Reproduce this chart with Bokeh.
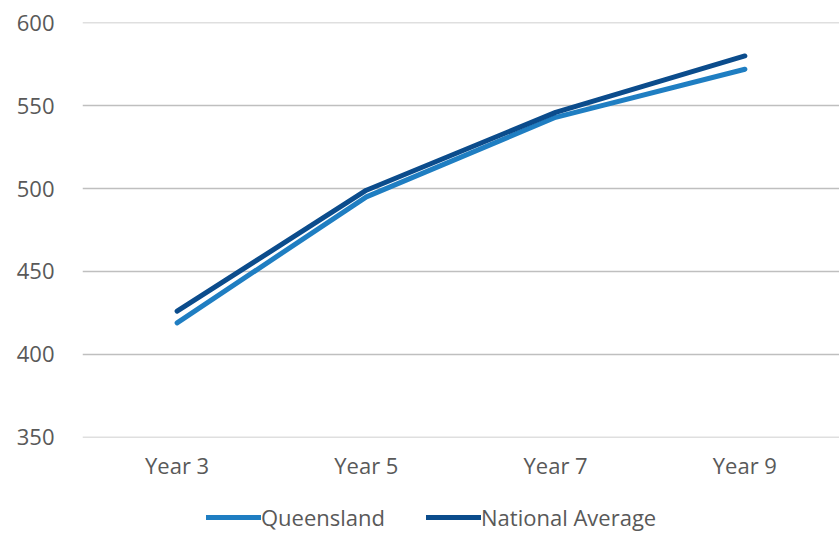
from bokeh.plotting import figure
from bokeh.layouts import column
from bokeh.models import Legend, LegendItem, Range1d, FactorRange, FixedTicker
from bokeh.embed import file_html
from bokeh.resources import INLINE

years = ["Year 3", "Year 5", "Year 7", "Year 9"]
queensland = [419, 495, 543, 572]
national = [426, 499, 546, 580]
y_ticks = [350, 400, 450, 500, 550, 600]
series_names = ["Queensland", "National Average"]
colors = ["#1F7EC2", "#0B4C8C"]

FONT = "Open Sans"
FS = "22px"
TXT = "#595959"

p = figure(width=839, height=500, x_range=FactorRange(*years),
           y_range=Range1d(y_ticks[0] - 0.2, y_ticks[-1] + 0.2),
           output_backend="svg", toolbar_location=None,
           min_border_left=82, min_border_right=0, min_border_top=22, min_border_bottom=63)
p.outline_line_color = None
p.border_fill_color = "white"

p.line(years, queensland, line_color=colors[0], line_width=5, line_cap="round", line_join="round")
p.line(years, national, line_color=colors[1], line_width=5, line_cap="round", line_join="round")

p.xgrid.grid_line_color = None
p.ygrid.grid_line_color = "#BFBFBF"
p.ygrid.grid_line_width = 1.5
p.yaxis.ticker = FixedTicker(ticks=y_ticks)
for ax in (p.xaxis, p.yaxis):
    ax.axis_line_color = None
    ax.major_tick_line_color = None
    ax.minor_tick_line_color = None
    ax.major_label_text_font = FONT
    ax.major_label_text_font_size = FS
    ax.major_label_text_color = TXT
p.yaxis.major_label_standoff = 22
p.xaxis.major_label_standoff = 6

# legend strip: same series drawn outside its visible range, only the legend shows
lg = figure(width=839, height=33, x_range=FactorRange(*years), y_range=Range1d(0, 1),
            output_backend="svg", toolbar_location=None, x_axis_type=None, y_axis_type=None,
            min_border_left=0, min_border_right=0, min_border_top=0, min_border_bottom=0)
lg.outline_line_color = None
lg.xgrid.visible = False
lg.ygrid.visible = False
l1 = lg.line(years, queensland, line_color=colors[0], line_width=5, line_cap="round")
l2 = lg.line(years, national, line_color=colors[1], line_width=5, line_cap="round")
legend = Legend(items=[LegendItem(label=series_names[0], renderers=[l1]),
                       LegendItem(label=series_names[1], renderers=[l2])],
                orientation="horizontal", location=(124, 1),
                label_text_font=FONT, label_text_font_size=FS,
                label_text_color=TXT, glyph_width=55, glyph_height=22,
                label_standoff=0, label_height=22,
                spacing=41, border_line_color=None, background_fill_alpha=0,
                padding=2, margin=0)
lg.add_layout(legend, "center")

layout = column(p, lg, spacing=0)
open("out.html", "w").write(file_html(layout, INLINE))
